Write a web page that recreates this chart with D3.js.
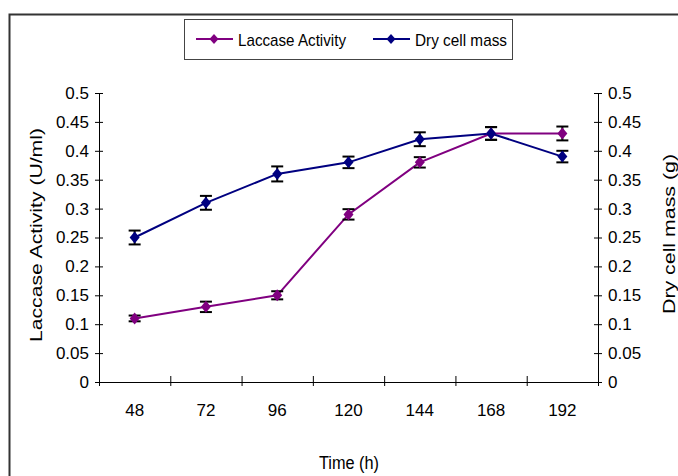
<!DOCTYPE html>
<html>
<head>
<meta charset="utf-8">
<script src="https://cdn.jsdelivr.net/npm/d3@7"></script>
<style>
  body { margin: 0; background: #fff; }
  text { font-family: 'Liberation Sans', Arial, sans-serif; fill: #000; }
</style>
</head>
<body>
<svg id="chart" width="678" height="476"></svg>
<script>
// values
const timeLabels = ['48', '72', '96', '120', '144', '168', '192']
const laccaseActivity = [0.11, 0.13, 0.15, 0.29, 0.38, 0.43, 0.43]
const laccaseError = [0.005, 0.009, 0.007, 0.009, 0.009, 0.011, 0.012]
const dryCellMass = [0.25, 0.31, 0.36, 0.38, 0.42, 0.43, 0.39]
const dryCellError = [0.012, 0.012, 0.013, 0.01, 0.012, 0.011, 0.01]
const yTicks = [0, 0.05, 0.1, 0.15, 0.2, 0.25, 0.3, 0.35, 0.4, 0.45, 0.5]

const seriesList = [
  { name: 'Laccase Activity', values: laccaseActivity, errors: laccaseError, color: '#800080' },
  { name: 'Dry cell mass', values: dryCellMass, errors: dryCellError, color: '#000080' },
]

const svg = d3.select('#chart')

// outer frame, runs off the right and bottom edges
svg
  .append('rect')
  .attr('x', 9.5)
  .attr('y', 14.5)
  .attr('width', 720)
  .attr('height', 520)
  .attr('fill', 'none')
  .attr('stroke', '#333')
  .attr('stroke-width', 2)

const xScale = d3
  .scaleBand()
  .domain(timeLabels)
  .range([99, 598])
  .padding(0)

const yScale = d3.scaleLinear().domain([0, 0.5]).range([382, 93])

// x axis: ticks at the category boundaries, labels in the middle
const boundaries = d3.range(timeLabels.length + 1)
const boundaryScale = d3
  .scaleLinear()
  .domain([0, timeLabels.length])
  .range(xScale.range())

const xAxis = svg
  .append('g')
  .attr('transform', `translate(0,${yScale(0)})`)
  .call(
    d3
      .axisBottom(boundaryScale)
      .tickValues(boundaries)
      .tickSize(5)
      .tickSizeOuter(0)
      .tickFormat('')
  )
xAxis.selectAll('.tick line').attr('y1', -6).attr('y2', 4)

const xLabels = svg
  .append('g')
  .attr('transform', `translate(0,${yScale(0)})`)
  .call(d3.axisBottom(xScale).tickSize(0).tickPadding(22))
xLabels.select('.domain').remove()

// left and right value axes
const leftAxis = svg
  .append('g')
  .attr('transform', 'translate(99,0)')
  .call(
    d3
      .axisLeft(yScale)
      .tickValues(yTicks)
      .tickSize(4)
      .tickSizeOuter(0)
      .tickPadding(6)
      .tickFormat(d3.format('~g'))
  )
leftAxis.selectAll('.tick line').attr('x2', 4).attr('x1', -4)

const rightAxis = svg
  .append('g')
  .attr('transform', 'translate(598,0)')
  .call(
    d3
      .axisRight(yScale)
      .tickValues(yTicks)
      .tickSize(4)
      .tickSizeOuter(0)
      .tickPadding(6)
      .tickFormat(d3.format('~g'))
  )
rightAxis.selectAll('.tick line').attr('x1', -4).attr('x2', 4)

svg
  .selectAll('.tick text')
  .attr('font-size', 17)
  .attr('font-family', null)
svg.selectAll('.domain, .tick line').attr('stroke', '#000')

// axis titles
svg
  .append('text')
  .attr('transform', 'translate(349,469)')
  .attr('text-anchor', 'middle')
  .attr('font-size', 18)
  .attr('textLength', 60)
  .attr('lengthAdjust', 'spacingAndGlyphs')
  .text('Time (h)')

svg
  .append('text')
  .attr('transform', 'translate(41.5,235) rotate(-90)')
  .attr('text-anchor', 'middle')
  .attr('font-size', 17)
  .attr('textLength', 214)
  .attr('lengthAdjust', 'spacingAndGlyphs')
  .text('Laccase Activity (U/ml)')

svg
  .append('text')
  .attr('transform', 'translate(675,234) rotate(-90)')
  .attr('text-anchor', 'middle')
  .attr('font-size', 17)
  .attr('textLength', 160)
  .attr('lengthAdjust', 'spacingAndGlyphs')
  .text('Dry cell mass (g)')

const cx = (i) => xScale(timeLabels[i]) + xScale.bandwidth() / 2
const diamond = (w, h) => `M0,${-h}L${w},0L0,${h}L${-w},0Z`

const line = d3
  .line()
  .x((d, i) => cx(i))
  .y((d) => yScale(d))

const plot = svg.append('g').attr('id', 'viz')

seriesList.forEach((s) => {
  plot
    .append('path')
    .datum(s.values)
    .attr('fill', 'none')
    .attr('stroke', s.color)
    .attr('stroke-width', 2)
    .attr('d', line)
})

// error bars
seriesList.forEach((s) => {
  const bars = plot
    .append('g')
    .selectAll('g')
    .data(s.values)
    .join('g')
    .attr('stroke', '#000')
    .attr('stroke-width', 2)
  bars
    .append('line')
    .attr('x1', (d, i) => cx(i))
    .attr('x2', (d, i) => cx(i))
    .attr('y1', (d, i) => yScale(d - s.errors[i]))
    .attr('y2', (d, i) => yScale(d + s.errors[i]))
  ;[-1, 1].forEach((sign) => {
    bars
      .append('line')
      .attr('x1', (d, i) => cx(i) - 6)
      .attr('x2', (d, i) => cx(i) + 6)
      .attr('y1', (d, i) => yScale(d + sign * s.errors[i]))
      .attr('y2', (d, i) => yScale(d + sign * s.errors[i]))
  })
})

seriesList.forEach((s) => {
  plot
    .append('g')
    .selectAll('path')
    .data(s.values)
    .join('path')
    .attr('transform', (d, i) => `translate(${cx(i)},${yScale(d)})`)
    .attr('d', diamond(5, 6))
    .attr('fill', s.color)
})

// legend
const legend = svg.append('g').attr('id', 'legend')
legend
  .append('rect')
  .attr('x', 184.5)
  .attr('y', 19.5)
  .attr('width', 328)
  .attr('height', 40)
  .attr('fill', '#fff')
  .attr('stroke', '#444')

const legendItems = [
  { x: 196, textLength: 108 },
  { x: 373, textLength: 92 },
]
seriesList.forEach((s, i) => {
  const item = legend
    .append('g')
    .attr('transform', `translate(${legendItems[i].x},39)`)
  item
    .append('line')
    .attr('x1', 0)
    .attr('x2', 37)
    .attr('stroke', s.color)
    .attr('stroke-width', 2)
  item
    .append('path')
    .attr('transform', 'translate(18,0)')
    .attr('d', diamond(4.5, 5))
    .attr('fill', s.color)
  item
    .append('text')
    .attr('x', 42)
    .attr('y', 7)
    .attr('font-size', 17)
    .attr('textLength', legendItems[i].textLength)
    .attr('lengthAdjust', 'spacingAndGlyphs')
    .text(s.name)
})
</script>
</body>
</html>
